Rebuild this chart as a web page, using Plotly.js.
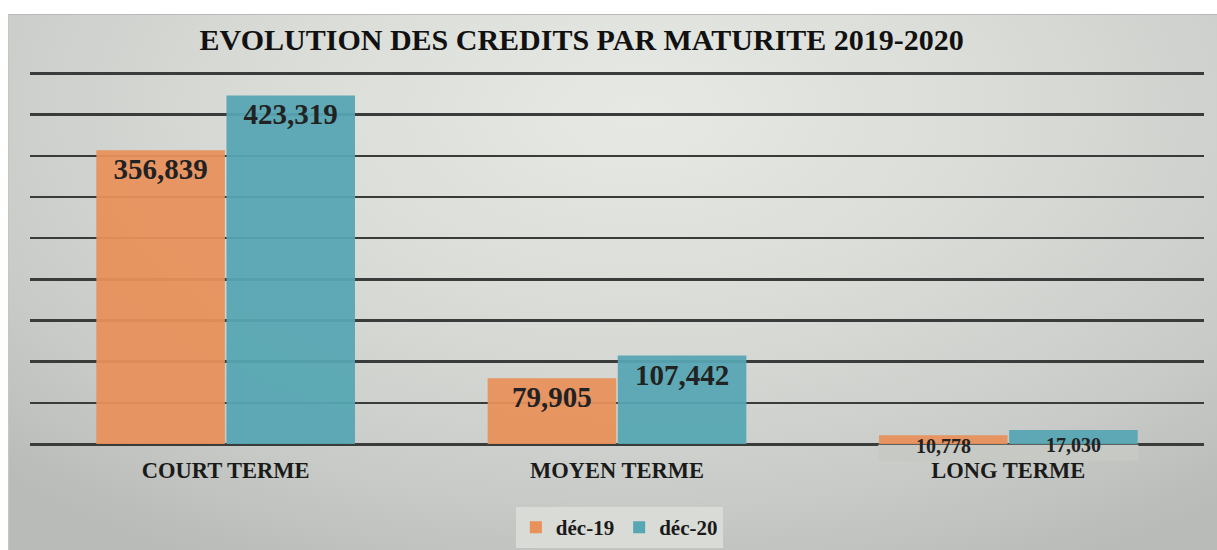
<!DOCTYPE html>
<html>
<head>
<meta charset="utf-8">
<script src="https://cdn.plot.ly/plotly-3.0.1.min.js"></script>
<style>
  html, body { margin: 0; padding: 0; background: #ffffff; }
  #wrap { position: relative; width: 1217px; height: 550px; overflow: hidden; }
  #frame {
    position: absolute; left: 8px; top: 14px; right: 0; bottom: 0;
    background: radial-gradient(ellipse 75% 95% at 52% 18%, #e7e9e5 0%, #dadcd8 40%, #c9ccc8 75%, #b8bbb7 100%);
    border-top: 1px solid #b9bbb8; border-left: 1px solid #c4c6c3;
  }
  #chart { position: absolute; left: 0; top: 0; width: 1217px; height: 550px; }
</style>
</head>
<body>
<div id="wrap">
  <div id="frame"></div>
  <div id="chart"></div>
</div>
<script>
  // ---- data ----
  const categories = ['COURT TERME', 'MOYEN TERME', 'LONG TERME'];
  const seriesNames = ['déc-19', 'déc-20'];
  const dec19 = [356839, 79905, 10778];
  const dec20 = [423319, 107442, 17030];
  const labels19 = ['356,839', '79,905', '10,778'];
  const labels20 = ['423,319', '107,442', '17,030'];
  const insideFlags = [true, true, false];
  const yTicks = [0, 50000, 100000, 150000, 200000, 250000, 300000, 350000, 400000, 450000];

  // ---- style ----
  const ORANGE = '#E8915A';
  const TEAL = '#56A6B3';
  const SERIF = '"Liberation Serif", "Times New Roman", serif';
  const BARGAP = 0.335;
  const barW = (1 - BARGAP) / 2;

  const pos = insideFlags.map(f => f ? 'inside' : 'none');

  const traces = [
    {
      type: 'bar', name: seriesNames[0], x: categories, y: dec19,
      marker: { color: ORANGE, opacity: 0.94, line: { width: 0 } },
      text: labels19, textposition: pos, insidetextanchor: 'end',
      textfont: { family: SERIF, size: 29, color: '#222222', weight: 'bold' },
      hoverinfo: 'skip'
    },
    {
      type: 'bar', name: seriesNames[1], x: categories, y: dec20,
      marker: { color: TEAL, opacity: 0.94, line: { width: 0 } },
      text: labels20, textposition: pos, insidetextanchor: 'end',
      textfont: { family: SERIF, size: 29, color: '#222222', weight: 'bold' },
      hoverinfo: 'skip'
    }
  ];

  const annotations = [];
  const shapes = [];
  insideFlags.forEach((f, i) => {
    if (f) return;
    shapes.push({
      type: 'rect', xref: 'x', yref: 'paper', layer: 'above',
      x0: i - barW, x1: i + barW, y0: -0.043, y1: -0.002,
      fillcolor: '#c7c9c5', line: { width: 0 }
    });
    annotations.push({
      x: i - barW / 2, y: 0, xref: 'x', yref: 'y', yanchor: 'middle', xanchor: 'center',
      yshift: -2, showarrow: false, text: labels19[i],
      font: { family: SERIF, size: 20, color: '#222222', weight: 'bold' }
    });
    annotations.push({
      x: i + barW / 2, y: 0, xref: 'x', yref: 'y', yanchor: 'middle', xanchor: 'center',
      yshift: -1, showarrow: false, text: labels20[i],
      font: { family: SERIF, size: 20, color: '#222222', weight: 'bold' }
    });
  });

  const layout = {
    width: 1217, height: 550,
    paper_bgcolor: 'rgba(0,0,0,0)',
    plot_bgcolor: 'rgba(0,0,0,0)',
    margin: { l: 30, r: 13, t: 56.5, b: 106, autoexpand: false },
    title: {
      text: 'EVOLUTION DES CREDITS PAR MATURITE 2019-2020',
      font: { family: SERIF, size: 30, color: '#111111', weight: 'bold' },
      xref: 'container', x: 0.478, xanchor: 'center',
      yref: 'container', y: 0.929, yanchor: 'middle'
    },
    barmode: 'group',
    bargap: BARGAP,
    bargroupgap: 0.012,
    showlegend: true,
    legend: {
      orientation: 'h', xref: 'paper', yref: 'paper',
      x: 0.502, xanchor: 'center', y: -0.163, yanchor: 'top',
      bgcolor: '#d9dbd7', borderwidth: 0,
      font: { family: SERIF, size: 21, color: '#1a1a1a', weight: 'bold' },
      itemwidth: 30, traceorder: 'normal'
    },
    xaxis: {
      type: 'category',
      showgrid: false, showline: false, zeroline: false, ticks: '',
      tickfont: { family: SERIF, size: 22.5, color: '#1a1a1a', weight: 'bold' },
      ticklabelstandoff: 10
    },
    yaxis: {
      range: [0, 470000], tickvals: yTicks, showticklabels: false,
      showgrid: true, gridcolor: '#3a3c3b', gridwidth: 2.5,
      zeroline: true, zerolinecolor: '#3a3c3b', zerolinewidth: 3,
      showline: false, ticks: '', fixedrange: true
    },
    shapes: shapes,
    annotations: annotations
  };

  Plotly.newPlot('chart', traces, layout, { staticPlot: true, displayModeBar: false });
</script>
</body>
</html>
